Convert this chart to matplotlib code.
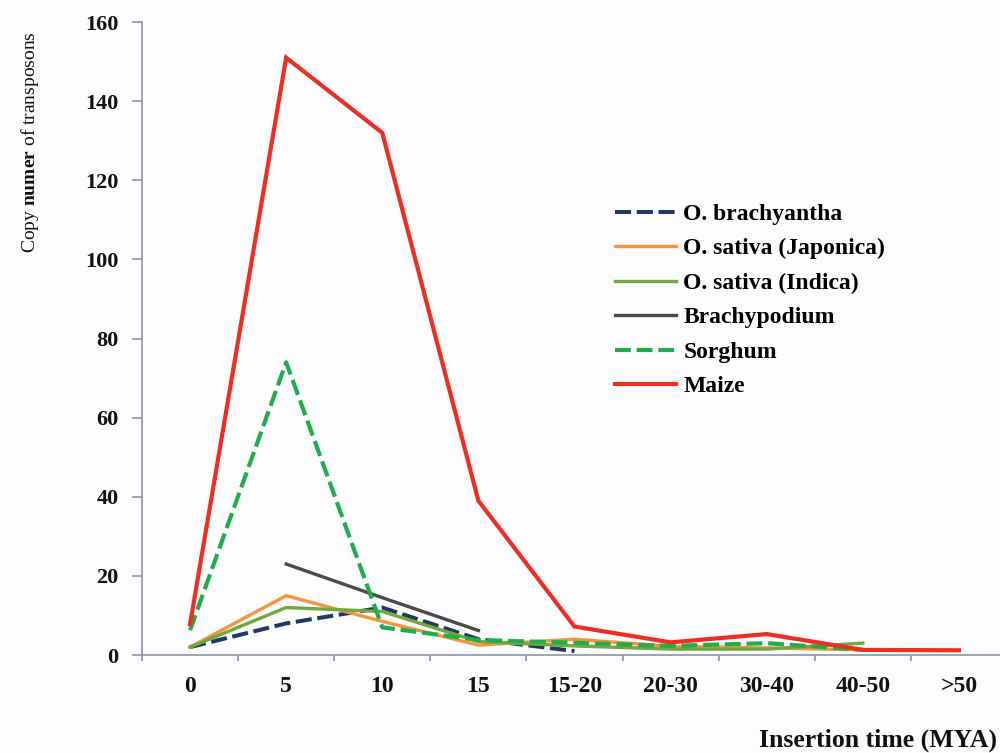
import numpy as np
import matplotlib
matplotlib.use("Agg")
import matplotlib.pyplot as plt

categories = ["0", "5", "10", "15", "15-20", "20-30", "30-40", "40-50", ">50"]
nan = np.nan
o_brachyantha = [2, 8, 12, 4, 1, nan, nan, nan, nan]
o_sativa_japonica = [2, 15, 8.5, 2.5, 4, 2.2, 1.8, 1.3, nan]
o_sativa_indica = [2, 12, 11, 3.4, 2.3, 1.5, 1.5, 3, nan]
brachypodium = [nan, 23, 14.5, 6.2, nan, nan, nan, nan, nan]
sorghum = [6.3, 74, 7, 3.8, 3.1, 2.3, 3, 1.3, nan]
maize = [7.8, 151, 132, 39, 7.2, 3.2, 5.3, 1.3, 1.2]

series = [
    ("O. brachyantha", o_brachyantha, "#1f3864", 2.9, (0, (4, 1.4))),
    ("O. sativa (Japonica)", o_sativa_japonica, "#f7943c", 2.4, "-"),
    ("O. sativa (Indica)", o_sativa_indica, "#72a83c", 2.4, "-"),
    ("Brachypodium", brachypodium, "#4a4a4a", 2.4, "-"),
    ("Sorghum", sorghum, "#1fae4b", 3.0, (0, (3.8, 1.4))),
    ("Maize", maize, "#ee2e22", 3.0, "-"),
]

plt.rcParams["mathtext.fontset"] = "custom"
plt.rcParams["mathtext.rm"] = "Liberation Serif"
plt.rcParams["mathtext.bf"] = "Liberation Serif:bold"

bg = "#fcfcfe"
fig = plt.figure(figsize=(10, 7.53), dpi=100, facecolor=bg)
ax = fig.add_axes([0.142, 0.1301, 0.865, 0.8406], facecolor=bg)

x = np.arange(len(categories))
for name, vals, col, lw, ls in series:
    ax.plot(x, vals, color=col, lw=lw, linestyle=ls, label=name,
            solid_joinstyle="miter", dash_capstyle="butt")

ax.set_xlim(-0.5, len(categories) - 0.5)
ax.set_ylim(0, 160)
ax.set_yticks(np.arange(0, 161, 20))
ax.set_xticks(x)
ax.set_xticklabels(categories)
ax.set_xticks(np.arange(-0.5, len(categories), 1), minor=True)

axcol = "#8a96a8"
for s in ["top", "right"]:
    ax.spines[s].set_visible(False)
for s in ["left", "bottom"]:
    ax.spines[s].set_color(axcol)
    ax.spines[s].set_linewidth(1.2)

ax.tick_params(axis="y", direction="out", length=7, width=1.2, color=axcol, pad=10)
ax.tick_params(axis="x", which="major", length=0, pad=15)
ax.tick_params(axis="x", which="minor", direction="out", length=4.5, width=1.2, color=axcol)
for lab in ax.get_yticklabels():
    lab.set_fontfamily("Liberation Serif")
    lab.set_fontweight("bold")
    lab.set_fontsize(16)
    lab.set_color("#111111")
for lab in ax.get_xticklabels():
    lab.set_fontfamily("Liberation Serif")
    lab.set_fontweight("bold")
    lab.set_fontsize(17)
    lab.set_color("#111111")

leg = ax.legend(loc="upper left", bbox_to_anchor=(0.615, 0.730),
                bbox_transform=fig.transFigure, frameon=False,
                prop={"family": "Liberation Serif", "weight": "bold", "size": 17},
                handlelength=2.6, handletextpad=0.3, labelspacing=0.55, borderpad=0,
                borderaxespad=0)

fig.text(0.997, 1 - 740 / 753, "Insertion time (MYA)", ha="right", va="center",
         fontfamily="Liberation Serif", fontweight="bold", fontsize=18.5, color="#111111")
fig.text(0.030, 1 - 142 / 753, r"Copy $\mathbf{numer}$ of transposons", rotation=90,
         ha="center", va="center", fontfamily="Liberation Serif", fontsize=14,
         color="#111111")

fig.savefig("out.png", dpi=100, facecolor=bg)
